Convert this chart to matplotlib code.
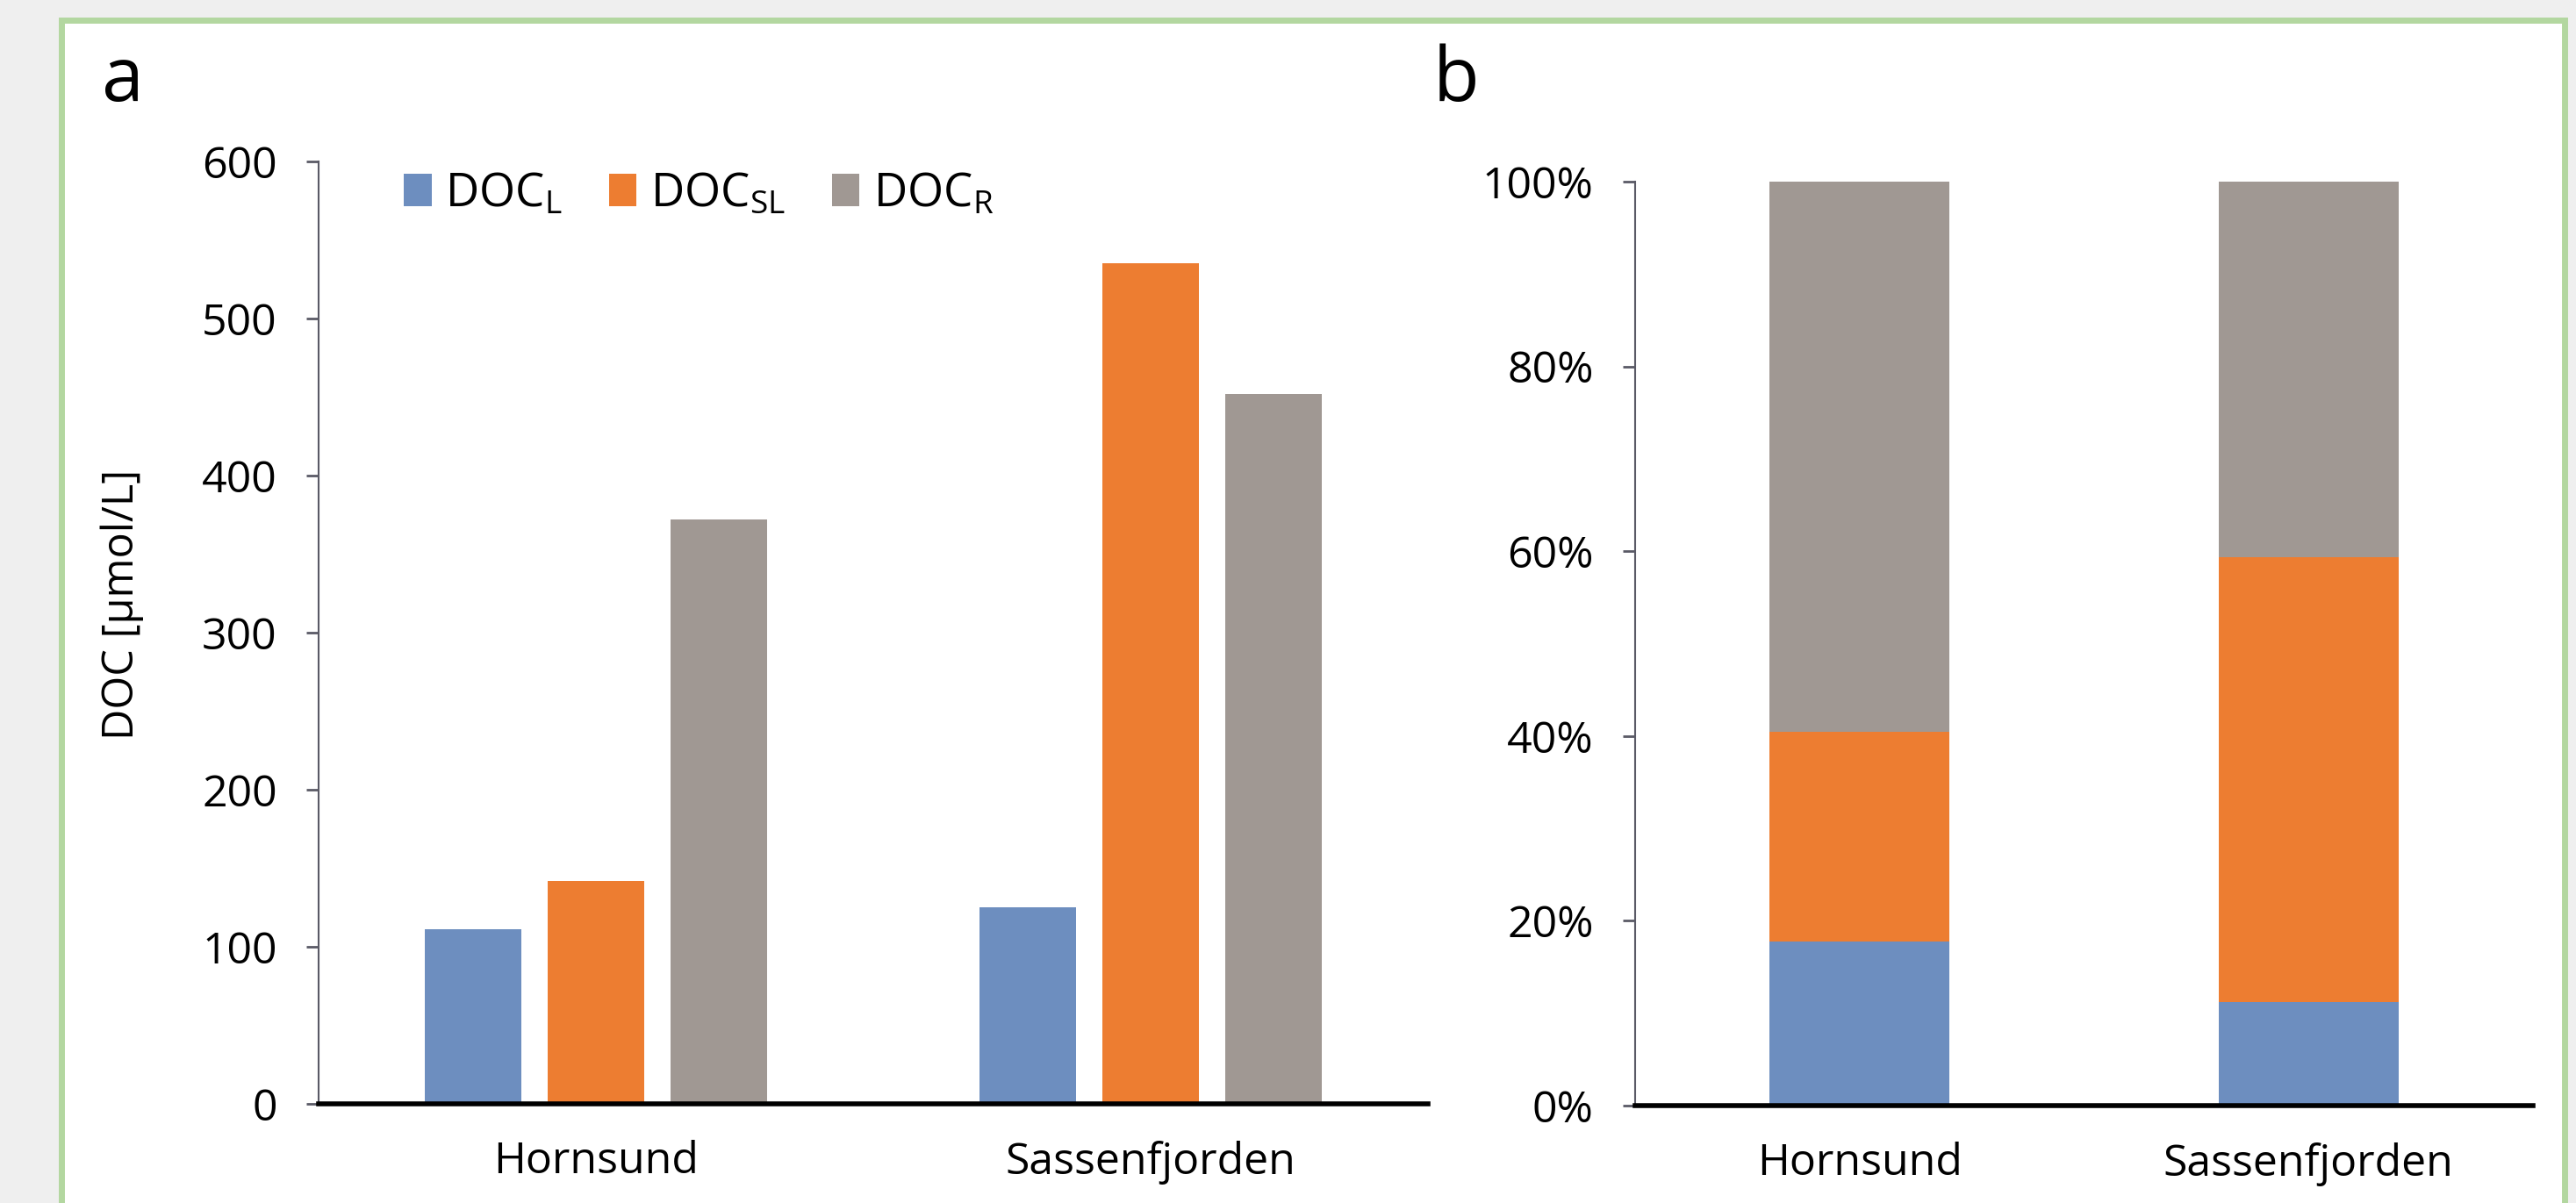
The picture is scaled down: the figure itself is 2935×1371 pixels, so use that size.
import numpy as np
import matplotlib
matplotlib.use("Agg")
import matplotlib.pyplot as plt
import matplotlib.patches as mpatches

# data
sites = ["Hornsund", "Sassenfjorden"]
doc_l = [111, 125]
doc_sl = [142, 535]
doc_r = [372, 452]
series_names = ["DOC$_\\mathregular{L}$", "DOC$_\\mathregular{SL}$", "DOC$_\\mathregular{R}$"]
colors = ["#6d8ebf", "#ed7d31", "#a09893"]
y_ticks_a = [0, 100, 200, 300, 400, 500, 600]
y_ticks_b = [0, 20, 40, 60, 80, 100]

plt.rcParams['font.family'] = ['Open Sans', 'DejaVu Sans']
plt.rcParams['mathtext.fontset'] = 'custom'
plt.rcParams['mathtext.rm'] = 'Open Sans'

W, H = 2935, 1371
fig = plt.figure(figsize=(W / 100, H / 100), dpi=100)
fig.patch.set_facecolor("#efefef")

# white panel with green frame
frame = mpatches.Rectangle((70 / W, -0.05), (2922 - 70) / W, 1.05 - 23 / H,
                           transform=fig.transFigure, facecolor="white",
                           edgecolor="#b3d7a0", linewidth=5, zorder=-10)
fig.patches.append(frame)


def style_axes(ax):
    for s in ["top", "right"]:
        ax.spines[s].set_visible(False)
    ax.spines["left"].set_color("#5a5a66")
    ax.spines["left"].set_linewidth(1.5)
    ax.spines["bottom"].set_color("black")
    ax.spines["bottom"].set_linewidth(4)
    ax.tick_params(axis="y", length=10, width=2, color="#5a5a66", pad=24, labelsize=36)
    ax.tick_params(axis="x", length=0, pad=30, labelsize=36)
    ax.set_facecolor("none")


# panel a: grouped bars
ax1 = fig.add_axes([363 / W, 1 - 1258 / H, (1627 - 363) / W, (1258 - 184) / H])
x = np.arange(len(sites))
w = 0.174
step = 0.221
for i, vals in enumerate([doc_l, doc_sl, doc_r]):
    ax1.bar(x + (i - 1) * step, vals, width=w, color=colors[i], label=series_names[i], zorder=2)
ax1.set_xlim(-0.5, 1.5)
ax1.set_ylim(0, 600)
ax1.set_yticks(y_ticks_a)
ax1.set_xticks(x)
ax1.set_xticklabels(sites)
ax1.set_ylabel("DOC [µmol/L]", fontsize=35)
ax1.yaxis.set_label_coords((164 - 363) / (1627 - 363), 0.53)
style_axes(ax1)
ax1.legend(loc="upper left", bbox_to_anchor=(0.06, 1.01), ncol=3, frameon=False,
           fontsize=38, handlelength=0.6, handleheight=0.7, handletextpad=0.3,
           columnspacing=1.0, borderaxespad=0)

# panel b: 100% stacked bars
ax2 = fig.add_axes([1863 / W, 1 - 1260 / H, (2886 - 1863) / W, (1260 - 207) / H])
totals = np.array(doc_l) + np.array(doc_sl) + np.array(doc_r)
bottom = np.zeros(len(sites))
for i, vals in enumerate([doc_l, doc_sl, doc_r]):
    share = np.array(vals) / totals * 100
    ax2.bar(x, share, bottom=bottom, width=0.40, color=colors[i], zorder=2)
    bottom += share
ax2.set_xlim(-0.5, 1.5)
ax2.set_ylim(0, 100)
ax2.set_yticks(y_ticks_b)
ax2.set_yticklabels([str(t) + "%" for t in y_ticks_b])
ax2.set_xticks(x)
ax2.set_xticklabels(sites)
style_axes(ax2)

fig.text(116 / W, 1 - 115 / H, "a", fontsize=62, ha="left", va="baseline")
fig.text(1633 / W, 1 - 115 / H, "b", fontsize=62, ha="left", va="baseline")

fig.savefig("out.png", dpi=100, facecolor=fig.get_facecolor())
